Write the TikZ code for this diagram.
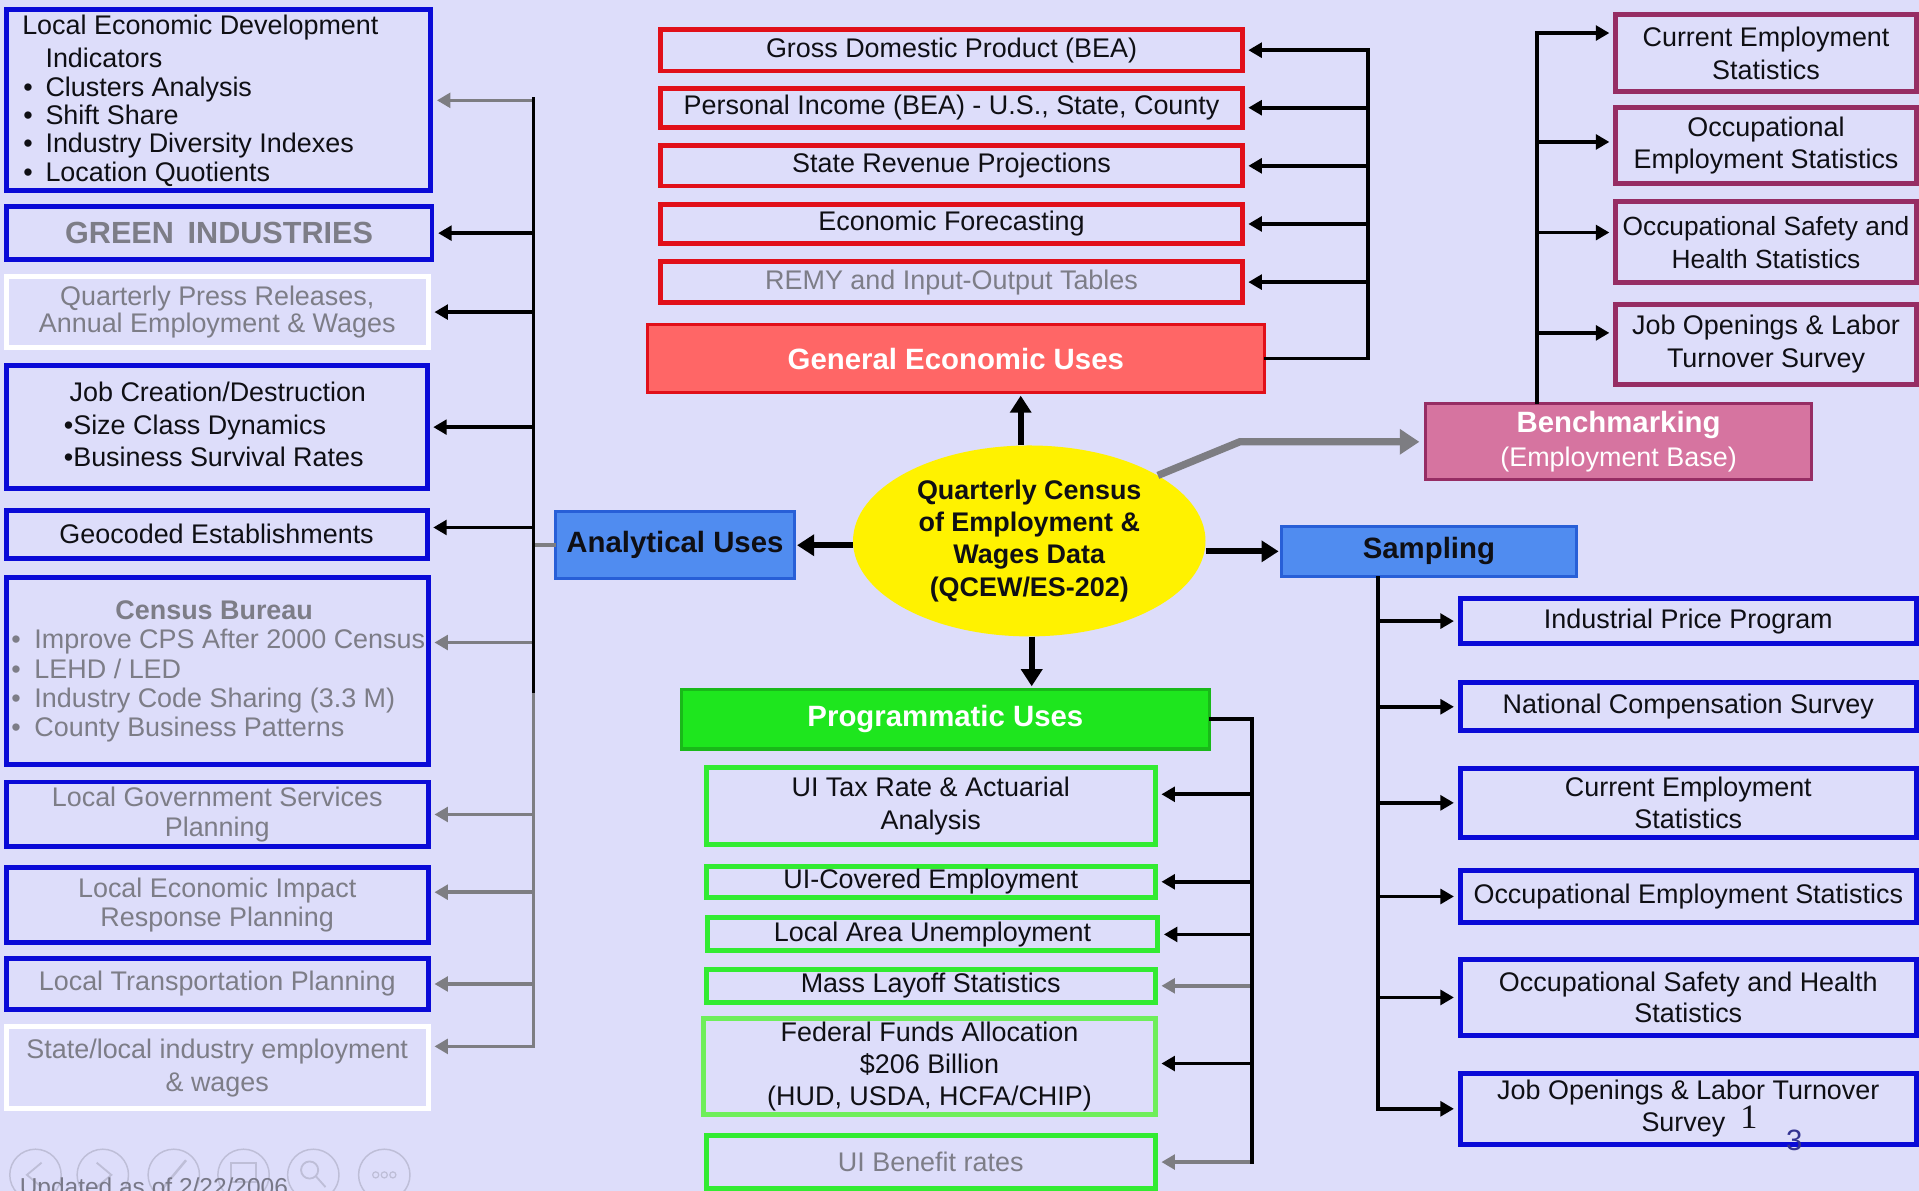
\documentclass[tikz,border=0pt]{standalone}
\usepackage{fontspec}
\setmainfont{Liberation Sans}
\newfontfamily\numserif{Liberation Serif}
\usetikzlibrary{arrows.meta,shapes.geometric}
\definecolor{bg}{RGB}{221,221,250}
\definecolor{txt}{RGB}{15,15,20}
\definecolor{bblue}{RGB}{10,10,215}
\definecolor{bred}{RGB}{225,15,25}
\definecolor{genfill}{RGB}{255,102,102}
\definecolor{hblue}{RGB}{80,140,240}
\definecolor{hblueb}{RGB}{40,95,215}
\definecolor{benchfill}{RGB}{214,116,160}
\definecolor{maroon}{RGB}{150,45,100}
\definecolor{progfill}{RGB}{30,230,30}
\definecolor{progb}{RGB}{25,185,25}
\definecolor{bgreen}{RGB}{50,235,50}
\definecolor{lgreen}{RGB}{110,238,90}
\definecolor{gtxt}{RGB}{125,125,135}
\definecolor{gline}{RGB}{125,125,130}
\definecolor{faint}{RGB}{190,190,215}
\definecolor{fainttxt}{RGB}{120,120,135}
\definecolor{numblue}{RGB}{50,50,145}
\newcommand\fs[2]{\fontsize{#1}{#2}\selectfont}
\newcommand\qbox[7]{\node[#1, minimum width={#5-#3-4}, minimum height={#6-#4-4}] (#2) at ({(#3+#5)/2},{(#4+#6)/2}) {#7};}
\begin{document}
\begin{tikzpicture}[x=1pt,y=-1pt,
  qb/.style={draw, fill=bg, inner sep=0pt, align=center, text=txt, line width=4pt, font=\fs{22}{24}},
  bluebox/.style={qb, draw=bblue},
  whitebox/.style={qb, draw=white},
  redbox/.style={qb, draw=bred},
  marbox/.style={qb, draw=maroon},
  grnbox/.style={qb, draw=bgreen},
  lgrnbox/.style={qb, draw=lgreen},
  hd/.style={draw, inner sep=0pt, align=center, line width=2.5pt, font=\bfseries\fs{24}{28}},
  hbox/.style={hd, fill=hblue, draw=hblueb, text=txt},
  lbl/.style={inner sep=0pt, anchor=base west, font=\fs{22}{24}, text=txt},
  bl/.style={line width=3pt, draw=black, line cap=rect},
  gl/.style={line width=3pt, draw=gline, line cap=rect},
  tip/.style={-{Triangle[length=11pt,width=12pt]}, shorten >=3pt},
  bigarr/.style={line width=5pt, draw=black, -{Triangle[length=14pt,width=17pt]}, shorten >=1pt},
  gbig/.style={line width=6pt, draw=gline, -{Triangle[length=16pt,width=20pt]}, shorten >=4pt}
]
\fill[bg] (0,0) rectangle (1568,973);
\useasboundingbox (0,0) rectangle (1568,973);
\clip (0,0) rectangle (1568,973);

% ---------- faint slide footer ----------
\foreach \cx in {29,84,142,199,256,314} {\draw[faint, line width=1.2pt] (\cx,960) circle (21);}
\draw[faint, line width=1.5pt] (34,950) -- (22,960) -- (34,970);
\draw[faint, line width=1.5pt] (79,950) -- (91,960) -- (79,970);
\draw[faint, line width=2pt] (132,972) -- (152,948);
\draw[faint, line width=1.5pt] (189,950) rectangle (209,966);
\draw[faint, line width=1.5pt] (253,956) circle (7) (258,961) -- (266,970);
\foreach \dx in {-7,0,7} {\draw[faint, line width=1pt] (314+\dx,960) circle (2.5);}
\node[inner sep=0pt, anchor=base west, font=\fs{20}{20}, text=fainttxt] (upd) at (16,977) {Updated as of 2/22/2006};

% ---------- left column ----------
\qbox{bluebox}{led}{3}{6}{354}{158}{}
\node[lbl] (led1) at (18,28) {Local Economic Development};
\node[lbl] (led2) at (37,55) {Indicators};
\node[lbl] (led3) at (18,79) {\makebox[19pt][l]{\hspace{1pt}•}Clusters Analysis};
\node[lbl] (led4) at (18,102) {\makebox[19pt][l]{\hspace{1pt}•}Shift Share};
\node[lbl] (led5) at (18,125) {\makebox[19pt][l]{\hspace{1pt}•}Industry Diversity Indexes};
\node[lbl] (led6) at (18,148) {\makebox[19pt][l]{\hspace{1pt}•}Location Quotients};
\qbox{bluebox, text=gtxt, font=\bfseries\fs{25}{28}}{green}{3}{167}{355}{214}{GREEN\hspace{0.45em}INDUSTRIES}
\qbox{whitebox, text=gtxt, font=\fs{22}{22}}{qpr}{3}{224}{352}{286}{Quarterly Press Releases,\\Annual Employment \& Wages}
\qbox{bluebox}{jcd}{3}{297}{351}{401}{}
\node[lbl, anchor=base] (jcd1) at (178,328) {Job Creation/Destruction};
\node[lbl] (jcd2) at (52,355) {•Size Class Dynamics};
\node[lbl] (jcd3) at (52,381) {•Business Survival Rates};
\qbox{bluebox}{geo}{3}{415}{351}{458}{Geocoded Establishments}
\qbox{bluebox}{census}{3}{470}{352}{627}{}
\node[lbl, anchor=base, text=gtxt, font=\bfseries\fs{22}{24}] (cen1) at (175,506) {Census Bureau};
\node[lbl, text=gtxt] (cen2) at (9,530) {\makebox[19pt][l]{•}Improve CPS After 2000 Census};
\node[lbl, text=gtxt] (cen3) at (9,554) {\makebox[19pt][l]{•}LEHD / LED};
\node[lbl, text=gtxt] (cen4) at (9,578) {\makebox[19pt][l]{•}Industry Code Sharing (3.3 M)};
\node[lbl, text=gtxt] (cen5) at (9,602) {\makebox[19pt][l]{•}County Business Patterns};
\qbox{bluebox, text=gtxt}{lgs}{3}{637}{352}{694}{Local Government Services\\Planning}
\qbox{bluebox, text=gtxt}{leir}{3}{707}{352}{772}{Local Economic Impact\\Response Planning}
\qbox{bluebox, text=gtxt}{ltp}{3}{781}{352}{827}{Local Transportation Planning}
\qbox{whitebox, text=gtxt, font=\fs{22}{27}}{sli}{3}{837}{352}{908}{State/local industry employment\\\& wages}

% ---------- centre ----------
\qbox{hbox}{ana}{452}{416}{651}{475}{Analytical Uses}
\node[ellipse, fill=yellow, minimum width=288pt, minimum height=156pt, inner sep=0pt, align=center, font=\bfseries\fs{22}{26.3}, text=txt] (qcew) at (841,442) {\raisebox{-3pt}{Quarterly Census}\\\raisebox{-3pt}{of Employment \&}\\\raisebox{-3pt}{Wages Data}\\\raisebox{-3pt}{(QCEW/ES-202)}};
\qbox{hd, fill=genfill, draw=bred, text=white}{gen}{527}{263}{1035}{323}{General Economic Uses}
\qbox{hbox}{samp}{1045}{428}{1290}{473}{Sampling}
\qbox{hd, fill=progfill, draw=progb, text=white}{prog}{555}{561}{990}{614}{Programmatic Uses}
\qbox{hd, fill=benchfill, draw=maroon, text=white, font=\fs{22}{28}}{bench}{1163}{328}{1482}{394}{{\bfseries\fs{24}{28}Benchmarking}\\(Employment Base)}

% ---------- red column ----------
\qbox{redbox}{gdp}{538}{22}{1017}{60}{Gross Domestic Product (BEA)}
\qbox{redbox}{pi}{538}{70}{1017}{106}{Personal Income (BEA) - U.S., State, County}
\qbox{redbox}{srp}{538}{117}{1017}{154}{State Revenue Projections}
\qbox{redbox}{ef}{538}{165}{1017}{201}{Economic Forecasting}
\qbox{redbox, text=gtxt}{remy}{538}{212}{1017}{249}{REMY and Input-Output Tables}

% ---------- benchmarking column ----------
\qbox{marbox, font=\fs{22}{27}}{ces}{1318}{10}{1568}{77}{Current Employment\\Statistics}
\qbox{marbox, font=\fs{22}{26}}{oes}{1318}{86}{1568}{152}{Occupational\\Employment Statistics}
\qbox{marbox, font=\fs{21.5}{27}}{oshs}{1318}{163}{1568}{233}{Occupational Safety and\\Health Statistics}
\qbox{marbox, font=\fs{22}{27}}{jolts}{1318}{247}{1568}{316}{Job Openings \& Labor\\Turnover Survey}

% ---------- sampling column ----------
\qbox{bluebox}{ipp}{1191}{487}{1568}{528}{Industrial Price Program}
\qbox{bluebox}{ncs}{1191}{556}{1568}{599}{National Compensation Survey}
\qbox{bluebox, font=\fs{22}{26}}{ces2}{1191}{626}{1568}{686}{Current Employment\\Statistics}
\qbox{bluebox}{oes2}{1191}{709}{1568}{756}{Occupational Employment Statistics}
\qbox{bluebox, font=\fs{22}{26}}{oshs2}{1191}{782}{1568}{848}{Occupational Safety and Health\\Statistics}
\qbox{bluebox, font=\fs{22}{26}}{jolts2}{1191}{875}{1568}{937}{Job Openings \& Labor Turnover\\\hspace*{-8pt}Survey}

% ---------- programmatic column ----------
\qbox{grnbox, font=\fs{22}{27}}{uit}{575}{625}{946}{692}{UI Tax Rate \& Actuarial\\Analysis}
\qbox{grnbox}{uic}{575}{706}{946}{735}{UI-Covered Employment}
\qbox{grnbox}{lau}{576}{748}{948}{779}{Local Area Unemployment}
\qbox{grnbox}{mls}{575}{790}{946}{821}{Mass Layoff Statistics}
\qbox{lgrnbox, font=\fs{22}{26.5}}{ffa}{573}{830}{946}{913}{Federal Funds Allocation\\\$206 Billion\\(HUD, USDA, HCFA/CHIP)}
\qbox{grnbox, text=gtxt}{uib}{575}{926}{946}{973}{UI Benefit rates}

% stray slide numbers
\node[inner sep=0pt, anchor=base, font=\numserif\fs{28}{28}, text=txt] (n1) at (1429,922) {1};
\node[inner sep=0pt, anchor=base, font=\fs{24}{24}, text=numblue] (n3) at (1466,940) {3};

% ---------- connectors: left trunk ----------
\coordinate (LT) at (436,81);
\coordinate (LTm) at (436,565);
\coordinate (LTb) at (436,855);
\draw[gl] (ana.west) -- (ana.west -| LT);
\draw[gl,tip] (led.east -| LT) -- (led.east);
\draw[bl,tip] (green.east -| LT) -- (green.east);
\draw[bl,tip] (qpr.east -| LT) -- (qpr.east);
\draw[bl,tip] (jcd.east -| LT) -- (jcd.east);
\draw[bl,tip] ([yshift=5.5pt]geo.east -| LT) -- ([yshift=5.5pt]geo.east);
\draw[gl,tip] ([yshift=23.5pt]census.east -| LT) -- ([yshift=23.5pt]census.east);
\draw[gl,tip] (lgs.east -| LT) -- (lgs.east);
\draw[gl,tip] ([yshift=10.5pt]leir.east -| LT) -- ([yshift=10.5pt]leir.east);
\draw[gl,tip] (ltp.east -| LT) -- (ltp.east);
\draw[gl,tip] ([yshift=17.5pt]sli.east -| LT) -- ([yshift=17.5pt]sli.east);
\draw[gl] (LTm) -- (LTb);
\draw[bl] (LT) -- (LTm);

% ---------- red trunk ----------
\coordinate (RT) at (1118,41);
\draw[bl,tip] (gdp.east -| RT) -- (gdp.east);
\draw[bl,tip] (pi.east -| RT) -- (pi.east);
\draw[bl,tip] (srp.east -| RT) -- (srp.east);
\draw[bl,tip] (ef.east -| RT) -- (ef.east);
\draw[bl,tip] (remy.east -| RT) -- (remy.east);
\draw[bl] (gen.east) -| (RT);

% ---------- benchmarking trunk ----------
\coordinate (BT) at (1256,27);
\draw[bl,tip] ([yshift=16.5pt]ces.west -| BT) -- ([yshift=16.5pt]ces.west);
\draw[bl,tip] ([yshift=3pt]oes.west -| BT) -- ([yshift=3pt]oes.west);
\draw[bl,tip] ([yshift=8pt]oshs.west -| BT) -- ([yshift=8pt]oshs.west);
\draw[bl,tip] ([yshift=9.5pt]jolts.west -| BT) -- ([yshift=9.5pt]jolts.west);
\draw[bl] (bench.north -| BT) -- (BT);

% ---------- sampling trunk ----------
\coordinate (ST) at (1126,906);
\draw[bl,tip] (ipp.west -| ST) -- (ipp.west);
\draw[bl,tip] (ncs.west -| ST) -- (ncs.west);
\draw[bl,tip] (ces2.west -| ST) -- (ces2.west);
\draw[bl,tip] (oes2.west -| ST) -- (oes2.west);
\draw[bl,tip] (oshs2.west -| ST) -- (oshs2.west);
\draw[bl,tip] (jolts2.west -| ST) -- (jolts2.west);
\draw[bl] (samp.south -| ST) -- (ST);

% ---------- programmatic trunk ----------
\coordinate (PT) at (1023,949.5);
\draw[bl,tip] ([yshift=9.5pt]uit.east -| PT) -- ([yshift=9.5pt]uit.east);
\draw[bl,tip] (uic.east -| PT) -- (uic.east);
\draw[bl,tip] (lau.east -| PT) -- (lau.east);
\draw[gl,tip] (mls.east -| PT) -- (mls.east);
\draw[bl,tip] ([yshift=2.5pt]ffa.east -| PT) -- ([yshift=2.5pt]ffa.east);
\draw[gl,tip] (uib.east -| PT) -- (uib.east);
\draw[bl] (prog.east) -| (PT);

% ---------- centre arrows ----------
\coordinate (upx) at (834,0);
\coordinate (dnx) at (843,0);
\coordinate (bendx) at (1013,0);
\draw[bigarr] (qcew.north -| upx) -- (gen.south -| upx);
\draw[bigarr] (qcew.south -| dnx) -- (prog.north -| dnx);
\draw[bigarr] (ana.east -| qcew.west) -- (ana.east);
\draw[bigarr] (samp.west -| qcew.east) -- (samp.west);
\draw[gbig] (qcew.27) -- (bench.west -| bendx) -- (bench.west);
\end{tikzpicture}
\end{document}
